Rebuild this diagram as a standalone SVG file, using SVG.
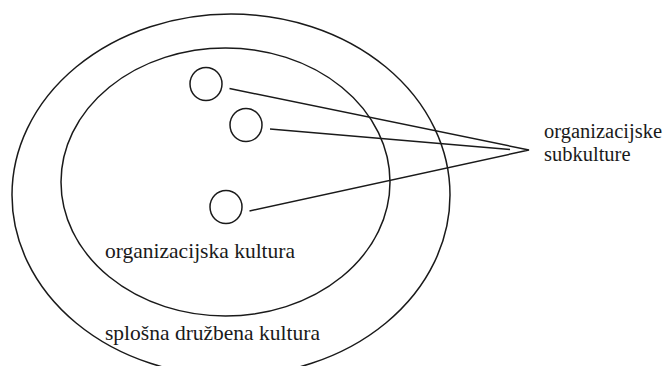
<svg xmlns="http://www.w3.org/2000/svg" width="667" height="366" viewBox="0 0 667 366">
<style>
.s{fill:none;stroke:#1a1a1a;stroke-width:1.5}
.t{font-family:"Liberation Serif","Times New Roman",serif;font-size:21.5px;fill:#1a1a1a}
.r{font-size:20.5px}
</style>
<rect width="667" height="366" fill="#fff"/>
<g id="outer"><ellipse class="s" cx="231" cy="195" rx="219" ry="181"/><text class="t" x="105" y="340">splošna družbena kultura</text></g>
<g id="inner"><ellipse class="s" cx="225.5" cy="182" rx="164.5" ry="134"/><text class="t" x="105" y="258">organizacijska kultura</text></g>
<g id="sub1"><ellipse class="s" cx="206" cy="84" rx="16" ry="16.5"/></g>
<g id="sub2"><ellipse class="s" cx="246" cy="125" rx="16" ry="16.5"/></g>
<g id="sub3"><ellipse class="s" cx="226" cy="207" rx="16" ry="16.5"/></g>
<g id="label"><text class="t r" x="544" y="138">organizacijske</text><text class="t r" x="544" y="161">subkulture</text></g>
<g id="connectors">
<path class="s" d="M229.5 88.5 L529 150 L249.5 211"/>
<path class="s" d="M270 129 L510 149.5"/>
</g>
</svg>
